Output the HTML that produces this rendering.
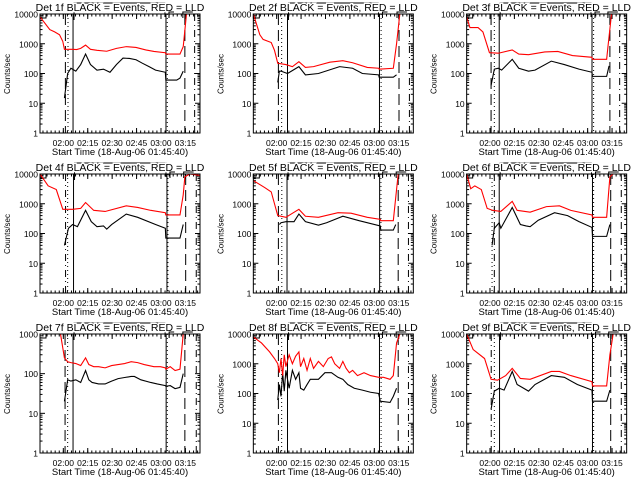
<!DOCTYPE html>
<html><head><meta charset="utf-8">
<style>
html,body{margin:0;padding:0;background:#fff;}
svg{display:block;font-family:"Liberation Sans",sans-serif;}
</style></head>
<body>
<svg id="chart" width="640" height="480" viewBox="0 0 640 480" xmlns="http://www.w3.org/2000/svg"></svg>
<script>
// ---- data (time in minutes after 01:45:40, counts/sec) ----
const detNames = ["1f","2f","3f","4f","5f","6f","7f","8f","9f"];
const yTopDecade = [4,4,4,4,4,4,3,4,4];
const xTickLabels = ["02:00","02:15","02:30","02:45","03:00","03:15"];
const xTickTimes = [14.33,29.33,44.33,59.33,74.33,89.33];

const redT1 = [0,6,9,12,14,15,20,22.5,25,28,31,35,41,47,53,59,65,70,77,77.3,86,88,90,98];
const redV1 = [8000,3000,2500,2000,1200,650,650,640,700,900,650,600,560,700,800,750,620,550,500,450,450,800,10000,12000];
const blkT1 = [15,17,19,22,25,28,31,35,39,43,47,51,55,59,63,67,71,77,77.3,84,86,88];
const blkV1 = [15,100,150,120,200,450,200,130,140,110,200,330,320,290,220,170,130,110,60,60,70,120];

const redT2 = [0,4,6,11,13,15,20,24,28,32,37,47,55,61,70,77,77.3,86,88,90,98];
const redV2 = [10000,2000,1400,1100,600,220,200,170,250,160,170,240,270,230,160,150,140,150,1000,10000,11000];
const blkT2 = [15,16,17,21,28,32,40,53,61,67,77,77.3,86,88];
const blkV2 = [50,120,120,100,170,90,100,170,150,100,90,75,75,90];

const redT3 = [0,2,7,10,14,19.5,28,32,38,48,56,65,77,77.3,86,87,89,98];
const redV3 = [8000,3500,3500,2500,500,480,620,450,430,530,550,400,350,300,300,1000,10000,11000];
const blkT3 = [15,17,19.5,21.5,28,32,38,42,52,60,69,77,77.3,86,87.5];
const blkV3 = [40,140,150,130,300,150,120,130,260,200,140,110,80,80,180];

const redT4 = [0,5,10,14,20,25,28,33,40,53,60,68,77,77.3,86,88,89,92,98];
const redV4 = [10000,4000,3000,650,650,700,1100,600,550,850,750,600,500,420,420,2000,8000,10000,9000];
const blkT4 = [15,17.5,20,23,28,31.5,35,39,41,44,53,60,71,77,77.3,86,88];
const blkV4 = [40,150,200,170,600,250,170,180,140,200,450,350,200,150,70,70,200];

const redT5 = [0,7,11,15,20,28,32,40,52,60,70,78,78.3,86,88,89,98];
const redV5 = [6000,3500,2500,400,350,650,380,350,500,480,350,300,270,270,3000,10000,11000];
const blkT5 = [16,17,20,25,28,32,40,45,55,65,78,78.3,86,87.5];
const blkV5 = [200,230,250,250,450,250,190,230,380,270,180,130,130,200];

const redT6 = [0,2.5,5,9,12.6,16,21,28,31,39,49,57,64,77,77.3,86,88,90,98];
const redV6 = [10000,3200,4000,3000,700,600,550,1200,600,520,800,850,600,420,350,350,8000,10000,10000];
const blkT6 = [15.6,17,20,21,28,33,36.5,39,44,54,62,69,77,77.3,86,88];
const blkV6 = [40,150,230,150,750,200,180,170,280,500,400,250,160,80,80,200];

const redT7 = [0,12,12.6,15,17,19,22,25,28,30,33,36,40,44,48,52,56,60,64,70,74,77,77.3,80,83,86,88,89];
const redV7 = [2000,2000,1000,250,200,190,180,160,250,170,150,150,140,160,170,180,200,190,170,150,150,140,130,150,120,130,1000,2000];
const blkT7 = [15,17,19,22,25,28,30,32,36,40,44,48,52,56,58,62,68,72,77,77.3,80,83,86,88];
const blkV7 = [20,70,65,70,60,120,70,60,55,55,65,75,80,85,85,70,60,55,50,48,50,42,45,100];

const redT8 = [0,5,10,13,15,16,17,18,19,20,22,24,26,28,29,31,33,35,37,40,43,46,48,50,53,55,57,59,61,64,68,72,77,80,84,86,88,90,98];
const redV8 = [8000,5000,2500,1500,1000,500,1500,400,2000,800,2000,1000,1800,2500,800,1500,600,1500,700,1200,800,1500,1700,1000,700,1200,700,500,600,400,500,400,350,350,300,400,5000,10000,11000];
const blkT8 = [15,16,17,18,19,20,22,24,26,28,29,31,33,35,40,44,48,52,55,58,62,67,72,77,78,84,86,88];
const blkV8 = [60,200,80,500,120,600,150,600,300,500,150,130,200,300,300,500,500,350,300,200,150,130,110,100,55,50,80,150];

const redT9 = [0,4,11,15,19,24,28,33,39,52,57,64,77,77.3,86,88,90,98];
const redV9 = [10000,3000,1500,300,280,400,700,320,300,550,550,400,250,180,180,2000,10000,11000];
const blkT9 = [15,17,20,23,28,31,35,38,42,52,60,68,77,77.3,86,88];
const blkV9 = [30,120,150,130,550,200,150,120,200,400,350,200,130,55,55,130];

const redTs = [redT1,redT2,redT3,redT4,redT5,redT6,redT7,redT8,redT9];
const redVs = [redV1,redV2,redV3,redV4,redV5,redV6,redV7,redV8,redV9];
const blkTs = [blkT1,blkT2,blkT3,blkT4,blkT5,blkT6,blkT7,blkT8,blkT9];
const blkVs = [blkV1,blkV2,blkV3,blkV4,blkV5,blkV6,blkV7,blkV8,blkV9];

const markTimes = [
 [15.6,17.2,20.3,77.4,78.2,89,95],
 [15.4,17.4,21,77.5,78.5,89.5,95.9],
 [15,17,20,77,78,88,94],
 [15.7,17,20.6,78,78.6,89.5,96],
 [15.4,17.5,20.7,77.6,78.4,89,95.3],
 [15.6,17,20,77.3,78,88.5,95],
 [15.4,17,20.3,77.5,78.2,89,96],
 [15.4,17.4,21,77.5,78.5,89,95.3],
 [15.1,17,20.2,77.3,78,88.5,95]
];
const markStyles = [
 ["dash","dot","solid","solid","dot","dash","dashdot"],
 ["dash","dot","solid","solid","dot","dash","dashdot"],
 ["dash","dot","solid","solid","dot","dash","dashdot"],
 ["dashdot","dot","solid","solid","dot","dash","dashdot"],
 ["dash","dot","solid","solid","dot","dash","dashdot"],
 ["dot","dashdot","solid","solid","dot","dash","dashdot"],
 ["dash","dot","solid","solid","dot","dash","dashdot"],
 ["dash","dot","solid","solid","dot","dash","dashdot"],
 ["dashdot","dot","solid","solid","dot","dash","dashdot"]
];

// ---- drawing ----
const NS = "http://www.w3.org/2000/svg";
const svg = document.getElementById("chart");
function mk(tag, attrs, parent) {
  const e = document.createElementNS(NS, tag);
  for (const k in attrs) e.setAttribute(k, attrs[k]);
  (parent || svg).appendChild(e);
  return e;
}
const dashMap = {dash:"11,5", dot:"1,3", solid:"none", dashdot:"7,4,1,4"};
const TMAX = 98.3;

for (let p = 0; p < 9; p++) {
  const ox = (p % 3) * 213.33, oy = Math.floor(p / 3) * 160;
  const bx0 = ox + 40, bx1 = ox + 200, by0 = oy + 14, by1 = oy + 133;
  const top = yTopDecade[p];
  const xs = t => bx0 + (t / TMAX) * (bx1 - bx0);
  const ys = v => by1 - (Math.log10(Math.max(v, 0.01)) / top) * (by1 - by0);

  const g = mk("g", {});
  
  

  const clipId = "clip" + p;
  const cp = mk("clipPath", {id: clipId}, g);
  mk("rect", {x: bx0, y: by0, width: bx1 - bx0, height: by1 - by0}, cp);

  // small top markers
  const s1 = xs(markTimes[p][2]), s2 = xs(markTimes[p][3]);
  mk("polyline", {points: (s1 + 1) + "," + (by0 + 6) + " " + (s1 + 1) + "," + (oy + 3) + " " + (s2 - 1) + "," + (oy + 3) + " " + (s2 - 1) + "," + (by0 + 3), fill: "none", stroke: "#000", "stroke-width": 1}, g);

  const title = mk("text", {x: ox + 120, y: oy + 11, "font-size": 10.5, "text-anchor": "middle", fill: "#000", stroke: "#fff", "stroke-width": 2.5, "paint-order": "stroke"}, g);
  title.textContent = "Det " + detNames[p] + " BLACK = Events, RED = LLD";
  
  

  const yl = mk("text", {x: 0, y: 0, "font-size": 8, "text-anchor": "middle", transform: "translate(" + (ox + 10) + "," + (oy + 74) + ") rotate(-90)"}, g);
  yl.textContent = "Counts/sec";
  
  

  const xl = mk("text", {x: ox + 120, y: oy + 155, "font-size": 9.5, "text-anchor": "middle"}, g);
  xl.textContent = "Start Time (18-Aug-06 01:45:40)";
  
  

  // y ticks
  for (let d = 0; d <= top; d++) {
    const y = ys(Math.pow(10, d));
    const tl = mk("text", {x: bx0 - 2, y: y + 3.5, "font-size": 8.5, "text-anchor": "end"}, g);
    tl.textContent = String(Math.pow(10, d));
    
    
    mk("line", {x1: bx0, x2: bx0 + 5, y1: y, y2: y, stroke: "#000", "stroke-width": 1}, g);
    mk("line", {x1: bx1, x2: bx1 - 5, y1: y, y2: y, stroke: "#000", "stroke-width": 1}, g);
    if (d < top) for (let m = 2; m <= 9; m++) {
      const ym = ys(m * Math.pow(10, d));
      mk("line", {x1: bx0, x2: bx0 + 2.5, y1: ym, y2: ym, stroke: "#000", "stroke-width": 1}, g);
      mk("line", {x1: bx1, x2: bx1 - 2.5, y1: ym, y2: ym, stroke: "#000", "stroke-width": 1}, g);
    }
  }
  // x ticks
  for (let i = 0; i < xTickTimes.length; i++) {
    const x = xs(xTickTimes[i]);
    mk("line", {x1: x, x2: x, y1: by1, y2: by1 - 5, stroke: "#000"}, g);
    mk("line", {x1: x, x2: x, y1: by0, y2: by0 + 5, stroke: "#000"}, g);
    const xt = mk("text", {x: x, y: oy + 146, "font-size": 8.5, "text-anchor": "middle"}, g);
    xt.textContent = xTickLabels[i];
    
    
  }
  for (let t = 1.83; t < TMAX; t += 2.5) {
    const x = xs(t);
    mk("line", {x1: x, x2: x, y1: by1, y2: by1 - 2.5, stroke: "#000"}, g);
    mk("line", {x1: x, x2: x, y1: by0, y2: by0 + 2.5, stroke: "#000"}, g);
  }

  // vertical marker lines
  for (let i = 0; i < markTimes[p].length; i++) {
    const x = xs(markTimes[p][i]);
    const st = markStyles[p][i];
    const ln = mk("line", {x1: x, x2: x, y1: by0, y2: by1, stroke: "#000", "stroke-width": 1, "stroke-dasharray": dashMap[st]}, g);
    
    
  }
  mk("rect", {x: bx0, y: by0, width: 6, height: 4, fill: "none", stroke: "#000"}, g);
  mk("polyline", {points: (s2 + 3) + "," + (by0 + 4) + " " + (s2 + 3) + "," + (by0 - 2) + " " + (s2 + 8) + "," + (by0 - 2), fill: "none", stroke: "#000"}, g);
  const s3 = xs(markTimes[p][5]);
  mk("polyline", {points: (s3 - 2) + "," + (by0 + 4) + " " + (s3 - 2) + "," + (by0 - 2) + " " + (s3 + 8) + "," + (by0 - 2), fill: "none", stroke: "#000"}, g);

  // series
  const path = (T, V) => T.map((t, i) => (i ? "L" : "M") + xs(t).toFixed(2) + "," + ys(V[i]).toFixed(2)).join(" ");
  const blk = mk("path", {d: path(blkTs[p], blkVs[p]), fill: "none", stroke: "#000", "stroke-width": 1.1, "clip-path": "url(#" + clipId + ")"}, g);
  
  
  const red = mk("path", {d: path(redTs[p], redVs[p]), fill: "none", stroke: "#ff0000", "stroke-width": 1.1, "clip-path": "url(#" + clipId + ")"}, g);
  
  

  // axis box
  const box = mk("rect", {x: bx0, y: by0, width: bx1 - bx0, height: by1 - by0, fill: "none", stroke: "#000", "stroke-width": 1}, g);
  
  
}
</script>
</body></html>
